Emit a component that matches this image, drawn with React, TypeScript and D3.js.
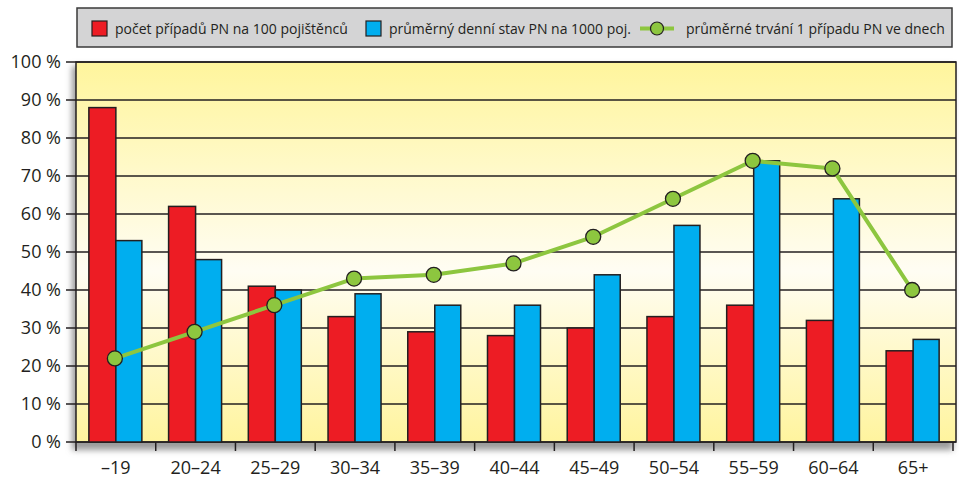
import React, { useEffect, useRef } from 'react';
import * as d3 from 'd3';

const categories = ['–19', '20–24', '25–29', '30–34', '35–39', '40–44', '45–49', '50–54', '55–59', '60–64', '65+'];
const pripady = [88, 62, 41, 33, 29, 28, 30, 33, 36, 32, 24];
const denniStav = [53, 48, 40, 39, 36, 36, 44, 57, 74, 64, 27];
const trvani = [22, 29, 36, 43, 44, 47, 54, 64, 74, 72, 40];
const yTicks = [0, 10, 20, 30, 40, 50, 60, 70, 80, 90, 100];
const legendLabels = ['počet případů PN na 100 pojištěnců', 'průměrný denní stav PN na 1000 poj.', 'průměrné trvání 1 případu PN ve dnech'];

const RED = '#ed1c24';
const BLUE = '#00aeef';
const GREEN = '#8dc63f';
const INK = '#231f20';
const FONT = '"Open Sans", sans-serif';

export default function App() {
  const svgRef = useRef<SVGSVGElement>(null);

  useEffect(() => {
    if (!svgRef.current) return;
    const svg = d3.select(svgRef.current);
    svg.selectAll('*').remove();

    const margin = { left: 76, top: 62, bottom: 38 };
    const height = 480;
    const plotRight = 953;
    const frameRight = 956;

    const x = d3.scaleBand<string>().domain(categories).range([margin.left, plotRight]);
    const y = d3.scaleLinear().domain([0, 100]).range([height - margin.bottom, margin.top]);

    const defs = svg.append('defs');
    const grad = defs.append('linearGradient').attr('id', 'bg').attr('x1', 0).attr('x2', 0).attr('y1', 0).attr('y2', 1);
    grad.append('stop').attr('offset', '0%').attr('stop-color', '#fff59c');
    grad.append('stop').attr('offset', '55%').attr('stop-color', '#fffdf3');
    grad.append('stop').attr('offset', '100%').attr('stop-color', '#fff49e');
    const blur = defs.append('filter').attr('id', 'shadow').attr('x', '-5%').attr('y', '-5%').attr('width', '110%').attr('height', '115%');
    blur.append('feGaussianBlur').attr('stdDeviation', 3);

    // Legend
    const lg = svg.append('g');
    lg.append('rect').attr('x', 77).attr('y', 8).attr('width', 875).attr('height', 39)
      .attr('fill', '#d4d4d5').attr('stroke', '#3a3a3a').attr('stroke-width', 1.5);
    lg.append('rect').attr('x', 92).attr('y', 21).attr('width', 15).attr('height', 15)
      .attr('fill', RED).attr('stroke', INK).attr('stroke-width', 1.2);
    lg.append('rect').attr('x', 366).attr('y', 21).attr('width', 15).attr('height', 15)
      .attr('fill', BLUE).attr('stroke', INK).attr('stroke-width', 1.2);
    lg.append('line').attr('x1', 640).attr('x2', 674).attr('y1', 28.5).attr('y2', 28.5)
      .attr('stroke', GREEN).attr('stroke-width', 4);
    lg.append('circle').attr('cx', 657).attr('cy', 28.5).attr('r', 6.5)
      .attr('fill', GREEN).attr('stroke', INK).attr('stroke-width', 1.2);
    const legendX = [115, 389, 686];
    lg.selectAll('text').data(legendLabels).join('text')
      .attr('x', (d, i) => legendX[i]).attr('y', 33.5)
      .attr('font-family', FONT).attr('font-size', 14).attr('fill', INK)
      .text(d => d);

    // Plot background with shadow
    svg.append('rect').attr('x', margin.left - 4).attr('y', margin.top + 4)
      .attr('width', plotRight - margin.left + 4).attr('height', y(0) - margin.top + 4)
      .attr('fill', '#9a9a9a').attr('filter', 'url(#shadow)');
    svg.append('rect').attr('x', margin.left).attr('y', margin.top)
      .attr('width', frameRight - margin.left).attr('height', y(0) - margin.top)
      .attr('fill', 'url(#bg)');

    // Gridlines
    svg.append('g').selectAll('line').data(yTicks).join('line')
      .attr('x1', margin.left - 10).attr('x2', frameRight)
      .attr('y1', d => y(d)).attr('y2', d => y(d))
      .attr('stroke', INK).attr('stroke-width', 1.5);

    // Border
    svg.append('rect').attr('x', margin.left).attr('y', margin.top)
      .attr('width', frameRight - margin.left).attr('height', y(0) - margin.top)
      .attr('fill', 'none').attr('stroke', INK).attr('stroke-width', 1.5);

    // Y labels
    svg.append('g').selectAll('text').data(yTicks).join('text')
      .attr('x', 61).attr('y', d => y(d) + 6)
      .attr('text-anchor', 'end').attr('font-family', FONT).attr('font-size', 18).attr('fill', INK)
      .text(d => `${d} %`);

    // X ticks + labels
    const xTickPos = [...categories.map(c => x(c) as number), plotRight];
    svg.append('g').selectAll('line').data(xTickPos).join('line')
      .attr('x1', d => d).attr('x2', d => d).attr('y1', y(0)).attr('y2', y(0) + 9)
      .attr('stroke', INK).attr('stroke-width', 1.5);
    svg.append('g').selectAll('text').data(categories).join('text')
      .attr('x', d => (x(d) as number) + x.bandwidth() / 2).attr('y', 474)
      .attr('text-anchor', 'middle').attr('font-family', FONT).attr('font-size', 18).attr('fill', INK)
      .text(d => d);

    // Bars
    const bw = 27;
    const center = (c: string) => (x(c) as number) + x.bandwidth() / 2;
    svg.append('g').selectAll('rect').data(categories).join('rect')
      .attr('x', d => center(d) - bw).attr('width', bw)
      .attr('y', (d, i) => y(pripady[i])).attr('height', (d, i) => y(0) - y(pripady[i]))
      .attr('fill', RED).attr('stroke', INK).attr('stroke-width', 1.5);
    svg.append('g').selectAll('rect').data(categories).join('rect')
      .attr('x', d => center(d)).attr('width', bw - 1)
      .attr('y', (d, i) => y(denniStav[i])).attr('height', (d, i) => y(0) - y(denniStav[i]))
      .attr('fill', BLUE).attr('stroke', INK).attr('stroke-width', 1.5);

    // Line
    const line = d3.line<number>().x((d, i) => center(categories[i]) - 1).y(d => y(d));
    svg.append('path').datum(trvani).attr('d', line)
      .attr('fill', 'none').attr('stroke', GREEN).attr('stroke-width', 4).attr('stroke-linejoin', 'round');
    svg.append('g').selectAll('circle').data(trvani).join('circle')
      .attr('cx', (d, i) => center(categories[i]) - 1).attr('cy', d => y(d)).attr('r', 7.5)
      .attr('fill', GREEN).attr('stroke', INK).attr('stroke-width', 1.3);
  }, []);

  return <svg ref={svgRef} width={959} height={480} style={{ position: 'absolute', left: 0, top: 0 }} />;
}
